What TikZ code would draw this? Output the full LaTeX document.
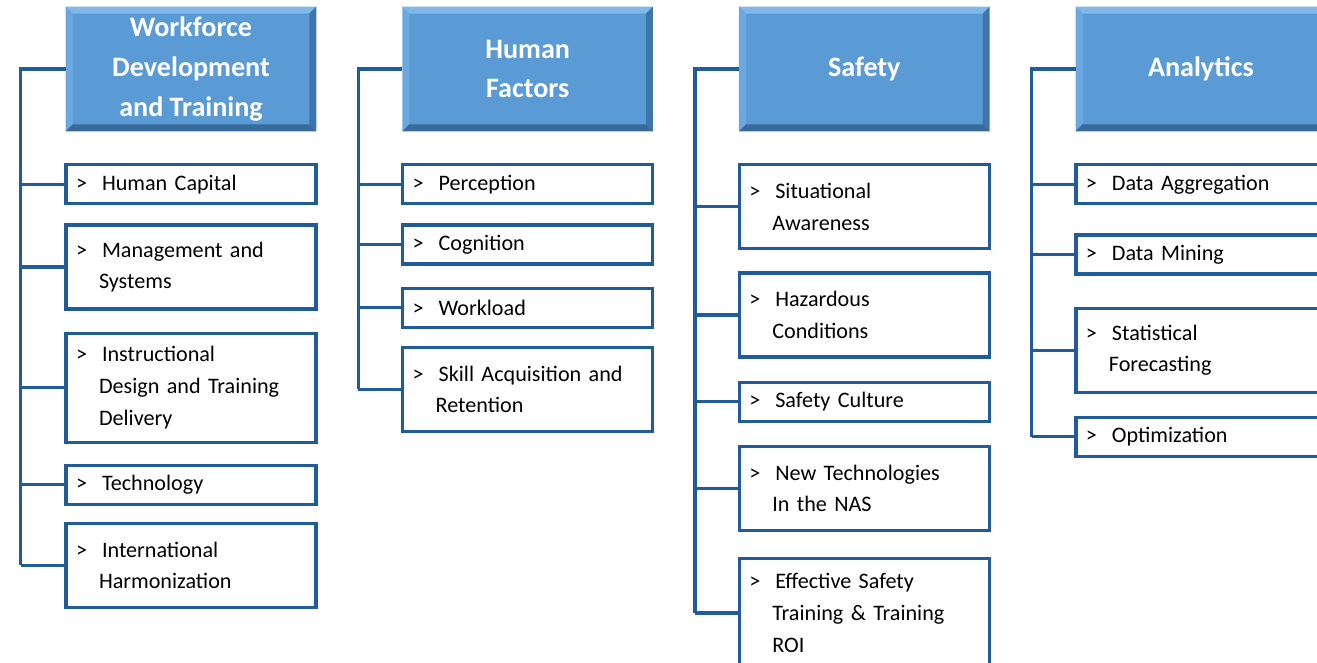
\documentclass[tikz,border=0pt]{standalone}
\usepackage{fontspec}
\setmainfont{Carlito}
\usepackage{tikz}
\usetikzlibrary{positioning}

\definecolor{headblue}{HTML}{5B9BD5}
\definecolor{headlight}{HTML}{80B8EA}
\definecolor{headside}{HTML}{6AA8DF}
\definecolor{headdark}{HTML}{3E76AB}
\definecolor{linkblue}{HTML}{1F5C99}

\newcommand{\gtx}{\makebox[0.52cm][l]{>}}
\newcommand{\nxt}{\\\hspace*{0.46cm}}

\begin{document}
\begin{tikzpicture}[
    x=0.02cm, y=0.02cm,
    node distance=0.42cm,
    head/.style={rectangle, minimum width=5cm, minimum height=2.48cm, inner sep=0pt, fill=headblue, text=white, align=center, font=\bfseries\fontsize{16}{22.7}\selectfont},
    item/.style={rectangle, draw=linkblue, line width=1.8pt, fill=white, text width=4.6cm, minimum width=5cm, minimum height=0.78cm, inner xsep=0.2cm, inner ysep=0pt, align=left, font=\fontsize{12.6}{18.1}\selectfont},
    item2/.style={item, minimum height=1.68cm},
    item3/.style={item, minimum height=2.18cm},
    link/.style={draw=linkblue, line width=1.8pt}
]
\useasboundingbox (0,0) rectangle (1317,-662);
\clip (0,0) rectangle (1317,-662);

% Headers
\node[head] (h1) at (191,-69) {Workforce\\Development\\and Training};
\node[head, right=1.72cm of h1] (h2) {Human\\Factors};
\node[head, right=1.72cm of h2] (h3) {Safety};
\node[head, right=1.72cm of h3] (h4) {Analytics};

% bevel edges
\foreach \h in {h1,h2,h3,h4} {
  \fill[headlight] (\h.north west) -- (\h.north east) -- ([shift={(-0.14cm,-0.14cm)}]\h.north east) -- ([shift={(0.14cm,-0.14cm)}]\h.north west) -- cycle;
  \fill[headside] (\h.north west) -- ([shift={(0.14cm,-0.14cm)}]\h.north west) -- ([shift={(0.14cm,0.14cm)}]\h.south west) -- (\h.south west) -- cycle;
  \fill[headdark] (\h.north east) -- ([shift={(-0.14cm,-0.14cm)}]\h.north east) -- ([shift={(-0.14cm,0.14cm)}]\h.south east) -- (\h.south east) -- cycle;
  \fill[headdark!90!black] (\h.south west) -- ([shift={(0.14cm,0.14cm)}]\h.south west) -- ([shift={(-0.14cm,0.14cm)}]\h.south east) -- (\h.south east) -- cycle;
}

% Workforce Development and Training
\node[item, below=0.64cm of h1] (a1) {\gtx Human Capital};
\node[item2, below=0.36cm of a1] (a2) {\gtx Management and\nxt Systems};
\node[item3, below=0.42cm of a2] (a3) {\gtx Instructional\nxt Design and Training\nxt Delivery};
\node[item, below=0.40cm of a3] (a4) {\gtx Technology};
\node[item2, below=0.32cm of a4] (a5) {\gtx International\nxt Harmonization};

% Human Factors
\node[item, below=0.64cm of h2] (b1) {\gtx Perception};
\node[item, below=0.36cm of b1] (b2) {\gtx Cognition};
\node[item, below=0.42cm of b2] (b3) {\gtx Workload};
\node[item2, below=0.34cm of b3] (b4) {\gtx Skill Acquisition and\nxt Retention};

% Safety
\node[item2, below=0.64cm of h3] (c1) {\gtx Situational\nxt Awareness};
\node[item2, below=0.42cm of c1] (c2) {\gtx Hazardous\nxt Conditions};
\node[item, below=0.44cm of c2] (c3) {\gtx Safety Culture};
\node[item2, below=0.44cm of c3] (c4) {\gtx New Technologies\nxt In the NAS};
\node[item3, below=0.50cm of c4] (c5) {\gtx Effective Safety\nxt Training \& Training\nxt ROI};

% Analytics
\node[item, below=0.64cm of h4] (d1) {\gtx Data Aggregation};
\node[item, below=0.56cm of d1] (d2) {\gtx Data Mining};
\node[item2, below=0.62cm of d2] (d3) {\gtx Statistical\nxt Forecasting};
\node[item, below=0.44cm of d3] (d4) {\gtx Optimization};

% Connectors
\draw[link] (h1.west) -- ++(-45,0) coordinate (r1) -- (r1 |- a5.west);
\foreach \n in {a1,a2,a3,a4,a5}
  \draw[link] (r1 |- \n.west) -- (\n.west);

\draw[link] (h2.west) -- ++(-44,0) coordinate (r2) -- (r2 |- b4.west);
\foreach \n in {b1,b2,b3,b4}
  \draw[link] (r2 |- \n.west) -- (\n.west);

\draw[link] (h3.west) -- ++(-44,0) coordinate (r3) -- (r3 |- c5.west);
\foreach \n in {c1,c2,c3,c4,c5}
  \draw[link] (r3 |- \n.west) -- (\n.west);

\draw[link] (h4.west) -- ++(-44,0) coordinate (r4) -- (r4 |- d4.west);
\foreach \n in {d1,d2,d3,d4}
  \draw[link] (r4 |- \n.west) -- (\n.west);

\end{tikzpicture}
\end{document}
